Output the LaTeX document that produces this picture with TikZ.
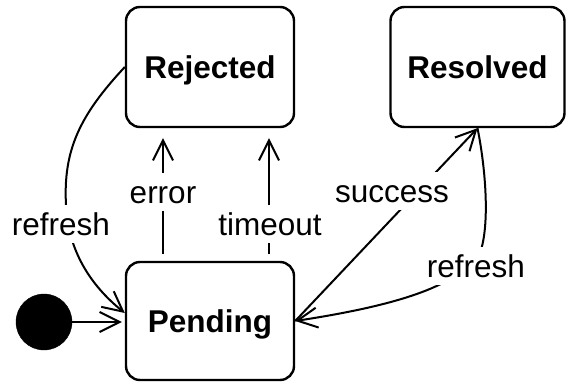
\documentclass[tikz,border=0pt]{standalone}
\usepackage{fontspec}
\setmainfont{Liberation Sans}
\usetikzlibrary{arrows.meta}

\tikzset{
  state/.style={draw, line width=2.4pt, rounded corners=14pt,
    minimum width=168pt, minimum height=120pt, inner sep=0pt,
    text height=22.6pt, text depth=0pt,
    font=\fontsize{31.5}{36}\selectfont\bfseries},
  initial state/.style={circle, fill=black, draw=black, minimum size=56pt, inner sep=0pt},
  trans/.style={line width=2pt, -{Straight Barb[length=20pt,width=20pt]}},
  lab/.style={fill=white, inner sep=4.5pt, text height=26pt, text depth=3pt,
    anchor=base, font=\fontsize{31.5}{36}\selectfont}
}

\begin{document}
\begin{tikzpicture}[x=1pt, y=-1pt]
  \useasboundingbox (0,0) rectangle (566,383);

  % states
  \node[state] (rej) at (210,67) {Rejected};
  \node[state, minimum width=174pt] (res) at (477.5,67) {Resolved};
  \node[state, minimum height=118pt] (pend) at (210,321) {Pending};
  \node[initial state] (init) at (44,322) {};

  % transitions
  \draw[trans, shorten >=3pt] (init) -- (pend.west |- init);
  \draw[trans, shorten <=7pt, shorten >=10pt]
    ([xshift=-47pt]pend.north) -- ([xshift=-47pt]rej.south);
  \draw[trans, shorten <=7pt, shorten >=10pt]
    ([xshift=59pt]pend.north) -- ([xshift=59pt]rej.south);
  \draw[trans] (pend.east) -- (res.south);
  \draw[trans] (res.south) .. controls (485,165) and (490,220) .. (481,250)
    .. controls (462,285) and (400,305) .. (pend.east);
  \draw[trans] (rej.west) .. controls (80,115) and (63,150) .. (66,205)
    .. controls (68,250) and (90,285) .. ([yshift=8pt]pend.west);

  % transition labels
  \node[lab] (lerr) at (163,203) {error};
  \node[lab] (ltime) at (270,235) {timeout};
  \node[lab] (lsucc) at (392,202) {success};
  \node[lab] (lref1) at (61,235) {refresh};
  \node[lab] (lref2) at (476,277) {refresh};
\end{tikzpicture}
\end{document}
